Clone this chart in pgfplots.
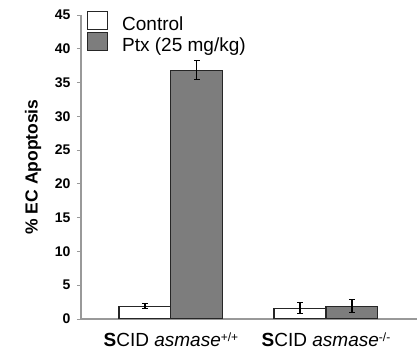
\documentclass[border=0pt]{standalone}
\usepackage{pgfplots}
\pgfplotsset{compat=1.18}
\usepackage{fontspec}
\setmainfont{Liberation Sans}
\definecolor{ptxgray}{HTML}{7D7D7D}
\definecolor{axgray}{HTML}{999999}
\begin{document}
\begin{tikzpicture}
\begin{axis}[
  name=ax,
  scale only axis,
  width=336pt, height=304pt,
  ybar, bar width=0.335,
  xmin=-0.58, xmax=1.587,
  ymin=0, ymax=45,
  ytick={0,5,...,45},
  xtick={0,1},
  xticklabels={{\textbf{S}CID \textit{asmase}\raisebox{0.55ex}{\fontsize{12}{12}\selectfont +/+}},{\textbf{S}CID \textit{asmase}\raisebox{0.55ex}{\fontsize{12}{12}\selectfont -/-}}},
  axis x line*=bottom, axis y line*=left,
  axis line style={axgray, line width=1.1pt, -},
  tick style={axgray, line width=0.9pt},
  xtick style={draw=none},
  tick align=outside, major tick length=4pt,
  yticklabel style={font=\bfseries\fontsize{14}{15}\selectfont, xshift=-3pt},
  xticklabel style={font=\fontsize{19}{21}\selectfont, yshift=-6pt},
  /pgf/number format/assume math mode=true,
  ylabel={\textbf{\% EC Apoptosis}},
  every axis y label/.style={at={(rel axis cs:0,0.5)}, rotate=90, anchor=center, yshift=48pt,
    font=\fontsize{17.5}{19}\selectfont},
  legend style={at={(rel axis cs:0,1)}, anchor=north west, xshift=6pt, yshift=4pt, draw=none, fill=none,
    font=\fontsize{19}{21}\selectfont, row sep=-2pt, inner sep=0pt},
  legend image code/.code={\draw[#1, line width=1pt] (0pt,-5pt) rectangle (20pt,13pt);},
  legend cell align=left,
]
\addplot[bar shift=-0.1675, draw=black!85, fill=white, line width=1.1pt,
  error bars/.cd, y dir=both, y explicit, error bar style={black, line width=1.1pt}, error mark options={black, mark size=3pt, rotate=90, line width=1.1pt}]
  coordinates {(0,1.9) +- (0,0.4) (1,1.6) +- (0,0.8)};
\addlegendentry{\hspace*{12pt}Control}
\addplot[bar shift=0.1675, draw=black!85, fill=ptxgray, line width=1.1pt,
  error bars/.cd, y dir=both, y explicit, error bar style={black, line width=1.1pt}, error mark options={black, mark size=3pt, rotate=90, line width=1.1pt}]
  coordinates {(0,36.8) +- (0,1.4) (1,1.9) +- (0,1.0)};
\addlegendentry{\hspace*{12pt}Ptx (25 mg/kg)}
\end{axis}
\pgfresetboundingbox
\useasboundingbox ([xshift=-81pt,yshift=-41pt]ax.south west) rectangle ([yshift=15pt]ax.north east);
\end{tikzpicture}
\end{document}
